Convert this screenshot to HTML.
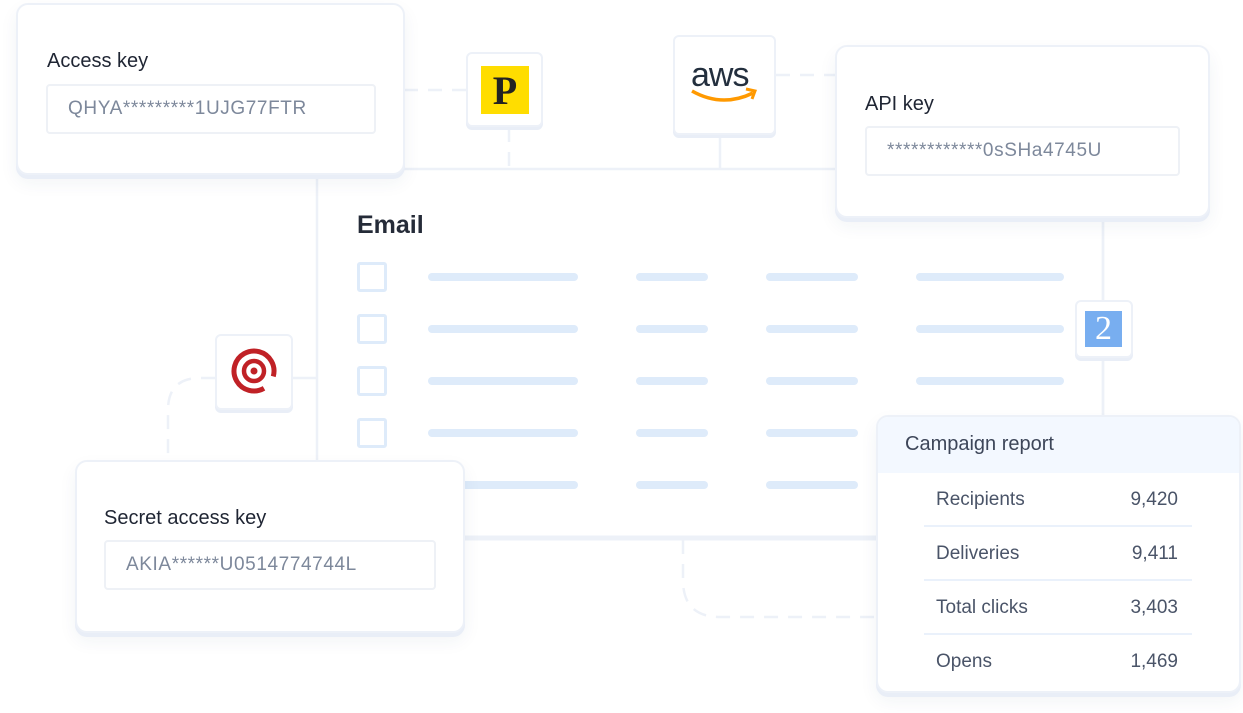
<!DOCTYPE html>
<html><head><meta charset="utf-8"><style>
*{margin:0;padding:0;box-sizing:border-box}
body{width:1243px;height:713px;background:#fff;position:relative;overflow:hidden;font-family:"Liberation Sans",sans-serif;color:#1f2533}
.a{position:absolute}
.card{position:absolute;background:#fff;border:2px solid #edf1f8;border-radius:12px;box-shadow:0 4px 0 #e9eef7,0 8px 18px rgba(40,60,100,.06)}
.lbl{position:absolute;font-size:20px;color:#1f2533}
.inp{position:absolute;border:2px solid #eef1f6;border-radius:4px;font-size:19px;color:#7d889b;padding-left:20px;display:flex;align-items:center;letter-spacing:.6px}
.bar{position:absolute;height:8px;border-radius:4px;background:#deebfa}
.cb{position:absolute;width:30px;height:30px;border:3px solid #deebfa;border-radius:3px}
.ic{position:absolute;background:#fff;border:2px solid #edf1f8;border-radius:6px;box-shadow:0 3px 0 #e9eef7}
.row{position:absolute;left:924px;width:268px;height:54px;border-bottom:2px solid #eaf1fb;font-size:19px;color:#4a5468}
.row span{position:absolute;top:16px}
</style></head><body>
<svg class="a" style="left:0;top:0" width="1243" height="713">
<g fill="none" stroke="#edf1f8" stroke-width="2.5">
<rect x="317" y="169" width="786" height="369"/>
<line x1="317" y1="538" x2="876" y2="538" stroke-width="5"/>
<line x1="720" y1="135" x2="720" y2="169"/>
<line x1="1103" y1="218" x2="1103" y2="415"/>
<line x1="292" y1="378" x2="317" y2="378"/>
<g stroke-dasharray="14 10">
<line x1="404" y1="90" x2="466" y2="90"/>
<line x1="509" y1="128" x2="509" y2="169"/>
<line x1="776" y1="75" x2="836" y2="75"/>
<path d="M215 378 H200 Q168 378 168 410 V460"/>
<path d="M683 540 V580 Q683 617 720 617 H876"/>
</g></g></svg>

<div class="a" style="left:357px;top:211px;font-size:25px;font-weight:bold;color:#252b38">Email</div>
<div class="cb" style="left:357px;top:262px"></div>
<div class="cb" style="left:357px;top:314px"></div>
<div class="cb" style="left:357px;top:366px"></div>
<div class="cb" style="left:357px;top:418px"></div>
<div class="bar" style="left:428px;top:273px;width:150px"></div><div class="bar" style="left:636px;top:273px;width:72px"></div><div class="bar" style="left:766px;top:273px;width:92px"></div><div class="bar" style="left:916px;top:273px;width:148px"></div>
<div class="bar" style="left:428px;top:325px;width:150px"></div><div class="bar" style="left:636px;top:325px;width:72px"></div><div class="bar" style="left:766px;top:325px;width:92px"></div><div class="bar" style="left:916px;top:325px;width:148px"></div>
<div class="bar" style="left:428px;top:377px;width:150px"></div><div class="bar" style="left:636px;top:377px;width:72px"></div><div class="bar" style="left:766px;top:377px;width:92px"></div><div class="bar" style="left:916px;top:377px;width:148px"></div>
<div class="bar" style="left:428px;top:429px;width:150px"></div><div class="bar" style="left:636px;top:429px;width:72px"></div><div class="bar" style="left:766px;top:429px;width:92px"></div><div class="bar" style="left:916px;top:429px;width:148px"></div>
<div class="bar" style="left:428px;top:481px;width:150px"></div><div class="bar" style="left:636px;top:481px;width:72px"></div><div class="bar" style="left:766px;top:481px;width:92px"></div><div class="bar" style="left:916px;top:481px;width:148px"></div>

<div class="card" style="left:16px;top:3px;width:389px;height:172px"></div>
<div class="lbl" style="left:47px;top:50px">Access key</div>
<div class="inp" style="left:46px;top:84px;width:330px;height:50px">QHYA*********1UJG77FTR</div>

<div class="ic" style="left:466px;top:52px;width:77px;height:75px"></div>
<div class="a" style="left:481px;top:66px;width:48px;height:48px;background:#ffdd00;font-family:'Liberation Serif',serif;font-size:40px;font-weight:bold;color:#222;text-align:center;line-height:50px">P</div>

<div class="ic" style="left:673px;top:35px;width:103px;height:100px"></div>
<div class="a" style="left:691px;top:56px;font-size:34px;color:#232f3e;letter-spacing:-1px">aws</div>
<svg class="a" style="left:680px;top:86px" width="90" height="22"><path d="M12 5 Q42 22 73 7" fill="none" stroke="#ff9900" stroke-width="3.5"/><path d="M66 3 L75 5 L72 13" fill="none" stroke="#ff9900" stroke-width="3"/></svg>

<div class="card" style="left:835px;top:45px;width:375px;height:173px"></div>
<div class="lbl" style="left:865px;top:93px">API key</div>
<div class="inp" style="left:865px;top:126px;width:315px;height:50px">************0sSHa4745U</div>

<div class="ic" style="left:1075px;top:300px;width:58px;height:58px"></div>
<div class="a" style="left:1085px;top:311px;width:37px;height:36px;background:#78aef0;color:#fff;font-size:34px;text-align:center;line-height:36px;font-family:'Liberation Serif',serif">2</div>

<div class="ic" style="left:215px;top:334px;width:78px;height:76px"></div>
<svg class="a" style="left:229px;top:346px" width="50" height="50"><circle cx="25" cy="25" r="20" fill="none" stroke="#c02126" stroke-width="5" stroke-dasharray="110 20" transform="rotate(60 25 25)"/><circle cx="25" cy="25" r="10" fill="none" stroke="#c02126" stroke-width="4.5"/><circle cx="25" cy="25" r="3.5" fill="#c02126"/></svg>

<div class="card" style="left:75px;top:460px;width:390px;height:173px"></div>
<div class="lbl" style="left:104px;top:507px">Secret access key</div>
<div class="inp" style="left:104px;top:540px;width:332px;height:50px">AKIA******U0514774744L</div>

<div class="card" style="left:876px;top:415px;width:365px;height:278px;overflow:hidden"><div style="height:56px;background:#f3f8ff"></div></div>
<div class="a" style="left:905px;top:433px;font-size:20px;color:#3d4659">Campaign report</div>
<div class="row" style="top:473px"><span style="left:12px">Recipients</span><span style="right:14px">9,420</span></div>
<div class="row" style="top:527px"><span style="left:12px">Deliveries</span><span style="right:14px">9,411</span></div>
<div class="row" style="top:581px"><span style="left:12px">Total clicks</span><span style="right:14px">3,403</span></div>
<div class="row" style="top:635px;border:none"><span style="left:12px">Opens</span><span style="right:14px">1,469</span></div>
</body></html>
